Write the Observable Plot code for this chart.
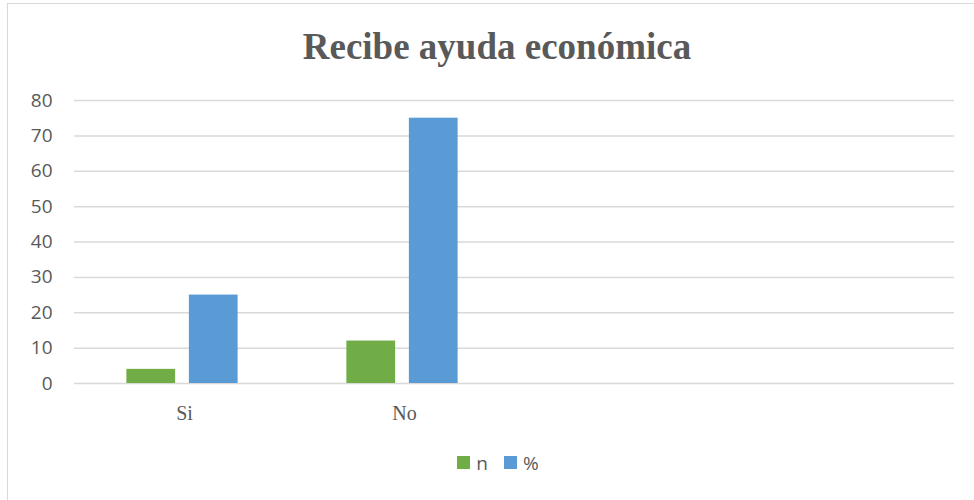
<!DOCTYPE html>
<html>
<head>
<meta charset="utf-8">
<script src="https://cdn.jsdelivr.net/npm/d3@7"></script>
<script src="https://cdn.jsdelivr.net/npm/@observablehq/plot@0.6"></script>
<style>
  html, body { margin: 0; padding: 0; background: #fff; overflow: hidden; }
  #frame { position: absolute; left: 7px; top: 3px; width: 1000px; height: 540px; border: 1.5px solid #d9d9d9; box-sizing: border-box; }
  #title { position: absolute; left: 0; top: 25px; width: 994px; text-align: center; font-family: "Liberation Serif", serif; font-weight: bold; font-size: 37px; color: #595959; }
  #chart { position: absolute; left: 0; top: 0; }
  #legend { position: absolute; left: 0; top: 449px; width: 996px; text-align: center; font-family: "Open Sans", sans-serif; font-size: 19px; color: #595959; }
  .item { display: inline-flex; align-items: center; margin: 0 8px; }
  .sw { display: inline-block; width: 13px; height: 13px; margin-right: 6px; }
</style>
</head>
<body>
<div id="frame"></div>
<div id="chart"></div>
<div id="title">Recibe ayuda económica</div>
<div id="legend"></div>
<script>
const categories = ["Si", "No", " ", "  "];
const series = ["n", "%"];
const valuesN = [4, 12, null, null];
const valuesPct = [25, 75, null, null];
const colors = ["#70AD47", "#5B9BD5"];
const yTicks = [0, 10, 20, 30, 40, 50, 60, 70, 80];

const rows = [];
categories.forEach((c, i) => {
  rows.push({cat: c, s: "n", v: valuesN[i]});
  rows.push({cat: c, s: "%", v: valuesPct[i]});
});

const chart = Plot.plot({
  width: 974,
  height: 430,
  marginTop: 100,
  marginBottom: 47,
  marginLeft: 72,
  marginRight: 19,
  style: {background: "transparent", overflow: "visible"},
  fx: {domain: categories, padding: 0, label: null},
  x: {domain: series, paddingInner: 0.22, paddingOuter: 0.87, round: false, axis: null},
  y: {domain: [0, 80], ticks: yTicks, label: null},
  color: {domain: series, range: colors},
  marks: [
    Plot.gridY(yTicks, {stroke: "#d9d9d9", strokeOpacity: 1, strokeWidth: 1.5}),
    Plot.axisY(yTicks, {tickSize: 0, tickPadding: 22, fontSize: 19, fontFamily: "Open Sans, sans-serif", fill: "#595959", label: null}),
    Plot.axisFx({anchor: "bottom", tickSize: 0, tickPadding: 22, fontSize: 20, fontFamily: "Liberation Serif, serif", fill: "#595959", label: null}),
    Plot.barY(rows, {fx: "cat", x: "s", y: "v", fill: "s", dx: -2})
  ]
});
document.getElementById("chart").appendChild(chart);

const legend = document.getElementById("legend");
series.forEach((s, i) => {
  const span = document.createElement("span");
  span.className = "item";
  const sw = document.createElement("span");
  sw.className = "sw";
  sw.style.background = colors[i];
  span.appendChild(sw);
  span.appendChild(document.createTextNode(s));
  legend.appendChild(span);
});
</script>
</body>
</html>
